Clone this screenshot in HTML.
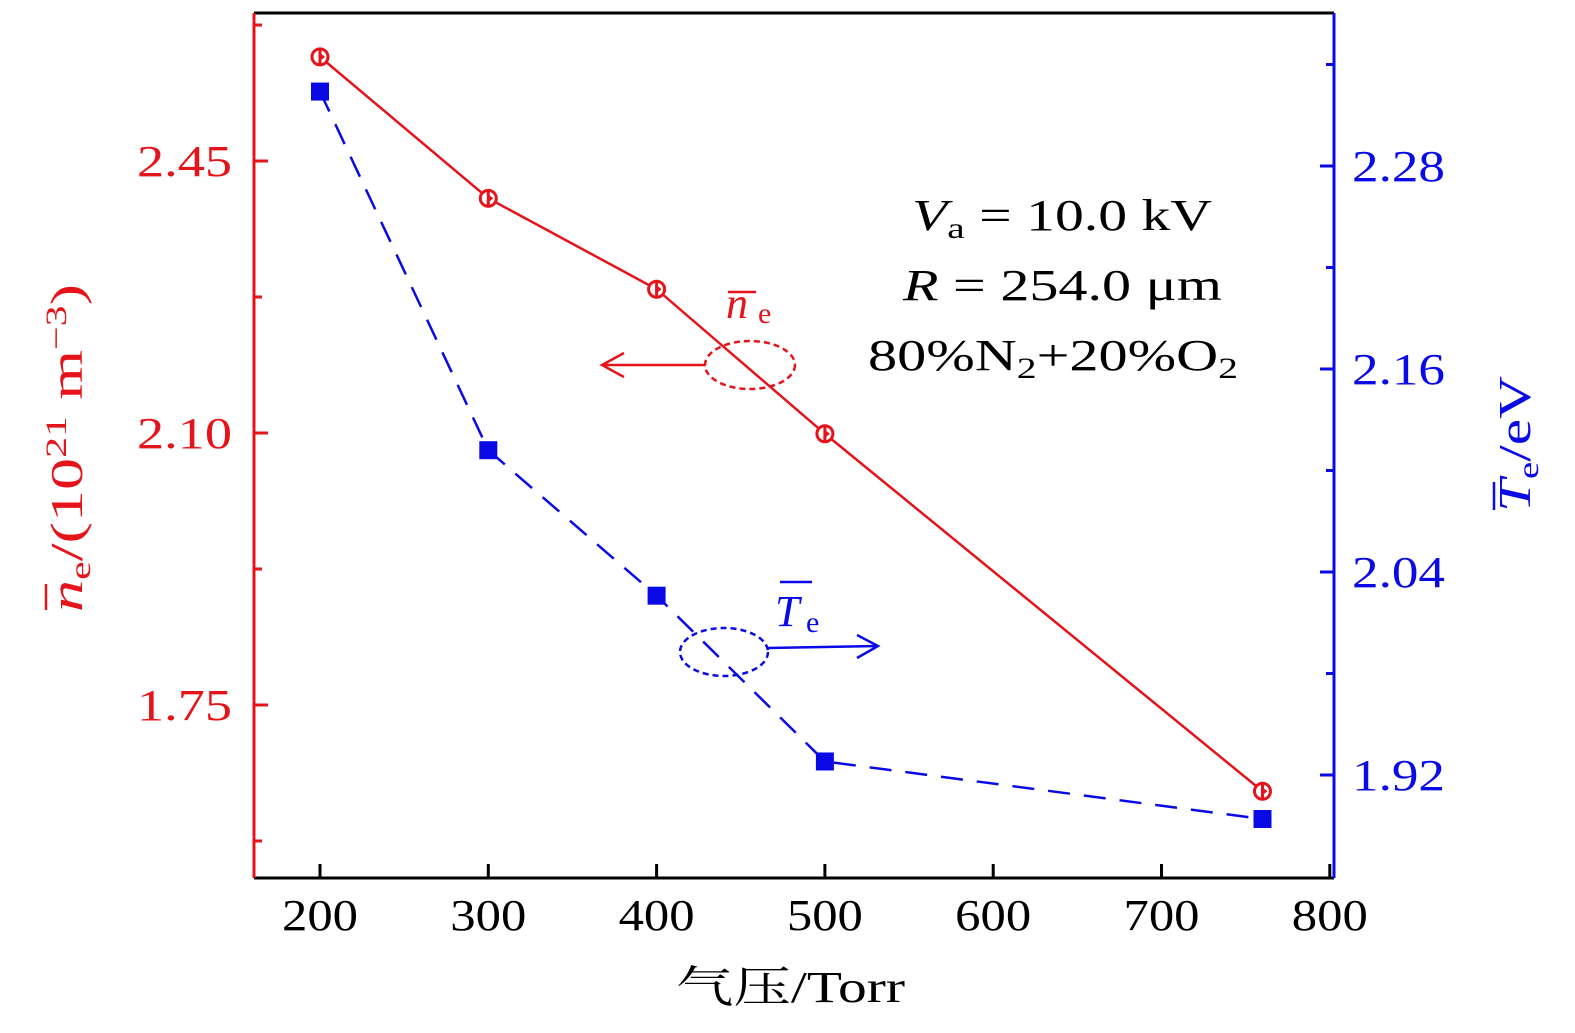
<!DOCTYPE html>
<html><head><meta charset="utf-8"><style>
html,body{margin:0;padding:0;background:#fff;overflow:hidden;width:1575px;height:1033px;}
svg{display:block;font-family:"Liberation Serif","Noto Serif CJK SC",serif;}
</style></head><body>
<svg id="chart" width="1575" height="1033" viewBox="0 0 1575 1033" xmlns="http://www.w3.org/2000/svg" style="position:absolute;left:0;top:0;"></svg>
<script>
const pressures = [200, 300, 400, 500, 760];
const neValues = [2.584, 2.402, 2.285, 2.099, 1.639];
const teValues = [2.324, 2.112, 2.026, 1.928, 1.894];
const xTicks = [200, 300, 400, 500, 600, 700, 800];
const leftTicks = [2.45, 2.10, 1.75];
const leftMinor = [2.625, 2.275, 1.925, 1.575];
const rightTicks = [2.28, 2.16, 2.04, 1.92];
const rightMinor = [2.34, 2.22, 2.10, 1.98];

const RED = '#e5141b', BLUE = '#0a0ae6';
const L = 254, R = 1334, T = 13, B = 878;
const X = v => 320 + (v - 200) * 1.683;
const YL = v => 433 - (v - 2.10) * 777.1;
const YR = v => 166 - (v - 2.28) * 1691.7;
const svg = document.getElementById('chart');
const NS = 'http://www.w3.org/2000/svg';
function mk(tag, attrs, parent) {
  const e = document.createElementNS(NS, tag);
  for (const k in attrs) e.setAttribute(k, attrs[k]);
  (parent || svg).appendChild(e);
  return e;
}
let e;
e = mk('line', {x1: L, y1: T, x2: R, y2: T, stroke: '#000', 'stroke-width': 3});


e = mk('line', {x1: L, y1: B, x2: R, y2: B, stroke: '#000', 'stroke-width': 3});


e = mk('line', {x1: L, y1: T, x2: L, y2: B, stroke: RED, 'stroke-width': 3});


e = mk('line', {x1: R, y1: T, x2: R, y2: B, stroke: BLUE, 'stroke-width': 3});



xTicks.forEach(v => {
  e = mk('line', {x1: X(v), y1: B, x2: X(v), y2: B - 14, stroke: '#000', 'stroke-width': 3});
  
  
  e = mk('text', {x: X(v) - 38, y: 930, 'font-size': 44, fill: '#000', textLength: 76, lengthAdjust: 'spacingAndGlyphs'});
  e.textContent = v;
  
  
});
leftTicks.forEach(v => {
  e = mk('line', {x1: L, y1: YL(v), x2: L + 14, y2: YL(v), stroke: RED, 'stroke-width': 3});
  
  
  e = mk('text', {x: 137, y: YL(v) + 15, 'font-size': 44, fill: RED, textLength: 95, lengthAdjust: 'spacingAndGlyphs'});
  e.textContent = v.toFixed(2);
  
  
});
leftMinor.forEach(v => {
  e = mk('line', {x1: L, y1: YL(v), x2: L + 8, y2: YL(v), stroke: RED, 'stroke-width': 3});
  
  
});
rightTicks.forEach(v => {
  e = mk('line', {x1: R, y1: YR(v), x2: R - 14, y2: YR(v), stroke: BLUE, 'stroke-width': 3});
  
  
  e = mk('text', {x: 1352, y: YR(v) + 15, 'font-size': 44, fill: BLUE, textLength: 93, lengthAdjust: 'spacingAndGlyphs'});
  e.textContent = v.toFixed(2);
  
  
});
rightMinor.forEach(v => {
  e = mk('line', {x1: R, y1: YR(v), x2: R - 8, y2: YR(v), stroke: BLUE, 'stroke-width': 3});
  
  
});

e = mk('polyline', {points: pressures.map((p, i) => X(p) + ',' + YL(neValues[i])).join(' '), fill: 'none', stroke: RED, 'stroke-width': 2.5});


e = mk('polyline', {points: pressures.map((p, i) => X(p) + ',' + YR(teValues[i])).join(' '), fill: 'none', stroke: BLUE, 'stroke-width': 2.5, 'stroke-dasharray': '22 14'});


pressures.forEach((p, i) => {
  const cx = X(p), cy = YL(neValues[i]);
  const g = mk('g', {});
  
  
  mk('circle', {cx: cx, cy: cy, r: 8, fill: '#fff', stroke: RED, 'stroke-width': 3}, g);
  mk('line', {x1: cx, y1: cy - 8, x2: cx, y2: cy + 8, stroke: RED, 'stroke-width': 3}, g);
  mk('path', {d: `M${cx},${cy - 4} L${cx + 5},${cy} L${cx},${cy + 4}Z`, fill: RED}, g);
  e = mk('rect', {x: X(p) - 9, y: YR(teValues[i]) - 9, width: 18, height: 18, fill: BLUE});
  
  
});

e = mk('ellipse', {cx: 750, cy: 365, rx: 45, ry: 24, fill: 'none', stroke: RED, 'stroke-width': 2.5, 'stroke-dasharray': '6 4'});


e = mk('path', {d: 'M706,365 L602,365 M624,353 L602,365 L624,377', fill: 'none', stroke: RED, 'stroke-width': 2.5});


e = mk('ellipse', {cx: 724, cy: 652, rx: 44, ry: 24, fill: 'none', stroke: BLUE, 'stroke-width': 2.5, 'stroke-dasharray': '6 4'});


e = mk('path', {d: 'M768,648 L878,646 M857,635 L878,646 L857,658', fill: 'none', stroke: BLUE, 'stroke-width': 2.5});


</script>
<svg width="1575" height="1033" style="position:absolute;left:0;top:0;font-family:'Liberation Serif','Noto Serif CJK SC',serif;" xmlns="http://www.w3.org/2000/svg">
<g fill="#e5141b">
<line x1="728" y1="292" x2="756" y2="292" stroke="#e5141b" stroke-width="2.5"/>
<text x="726" y="318" font-size="44" font-style="italic">n</text><text x="758" y="323" font-size="30">e</text></g>
<g fill="#0a0ae6">
<line x1="780" y1="582" x2="812" y2="582" stroke="#0a0ae6" stroke-width="2.5"/>
<text x="775" y="626" font-size="44" font-style="italic">T</text><text x="806" y="632" font-size="30">e</text></g>
<text x="912" y="230" font-size="44" textLength="300" lengthAdjust="spacingAndGlyphs"><tspan font-style="italic">V</tspan><tspan font-size="30" dy="8">a</tspan><tspan dy="-8"> = 10.0 kV</tspan></text>
<text x="903" y="300" font-size="44" textLength="319" lengthAdjust="spacingAndGlyphs"><tspan font-style="italic">R</tspan> = 254.0 μm</text>
<text x="868" y="370" font-size="44" textLength="370" lengthAdjust="spacingAndGlyphs">80%N<tspan font-size="30" dy="8">2</tspan><tspan dy="-8">+20%O</tspan><tspan font-size="30" dy="8">2</tspan></text>
<text x="676" y="1002" font-size="44" textLength="229" lengthAdjust="spacingAndGlyphs">气压/Torr</text>
<g transform="translate(82,612) rotate(-90)" fill="#e5141b">
<line x1="2" y1="-36" x2="28" y2="-36" stroke="#e5141b" stroke-width="2.5"/>
<text x="0" y="0" font-size="46" textLength="328" lengthAdjust="spacingAndGlyphs"><tspan font-style="italic">n</tspan><tspan font-size="30" dy="8">e</tspan><tspan dy="-8">/(10</tspan><tspan font-size="30" dy="-16">21</tspan><tspan dy="16"> m</tspan><tspan font-size="30" dy="-16">−3</tspan><tspan dy="16">)</tspan></text>
</g>
<g transform="translate(1530,512) rotate(-90)" fill="#0a0ae6">
<line x1="2" y1="-36" x2="30" y2="-36" stroke="#0a0ae6" stroke-width="2.5"/>
<text x="0" y="0" font-size="46" textLength="136" lengthAdjust="spacingAndGlyphs"><tspan font-style="italic">T</tspan><tspan font-size="30" dy="8">e</tspan><tspan dy="-8">/eV</tspan></text>
</g>
</svg>
</body></html>
